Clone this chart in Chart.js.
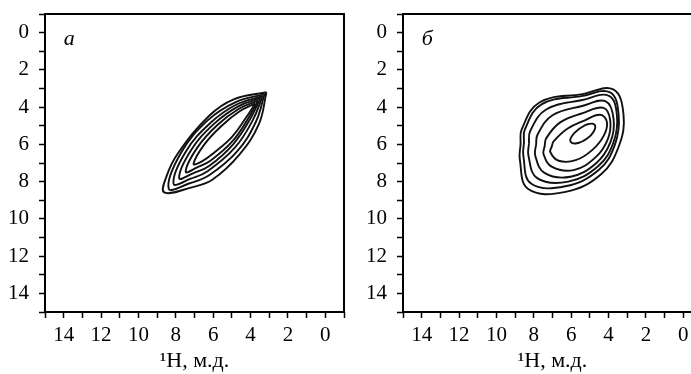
<!DOCTYPE html>
<html>
<head>
  <title>2D contour plots</title>
  <script src="https://cdn.jsdelivr.net/npm/chart.js@4.4.0/dist/chart.umd.min.js"></script>
  <style>
    html, body { margin: 0; padding: 0; background: #fff; overflow: hidden; width: 691px; height: 374px; }
    .panel { position: absolute; top: 0; width: 350px; height: 374px; }
  </style>
</head>
<body>
  <div class="panel" style="left:0px"><canvas id="chartA" width="350" height="374"></canvas></div>
  <div class="panel" style="left:358px"><canvas id="chartB" width="350" height="374"></canvas></div>

  <script>
    // axis setup, ppm
    var axisMin = -1;
    var axisMax = 15;
    var tickLabels = [0, 2, 4, 6, 8, 10, 12, 14];
    var axisTitle = "\u00b9H, м.д.";
    var panelLabels = ["а", "б"];

    // panel a: contour levels, outer to inner, [x ppm, y ppm]
    var contA1 = [[3.15,3.2],[4.9,3.58],[6.2,4.45],[7.9,6.5],[8.5,7.72],[8.62,8.58],[7.2,8.32],[6.05,7.9],[4.6,6.55],[3.55,4.9],[3.15,3.2]];
    var contA2 = [[3.25,3.3],[4.82,3.74],[6.28,4.7],[7.72,6.45],[8.38,8.38],[7.3,8.1],[6.22,7.66],[4.72,6.38],[3.72,4.8],[3.25,3.3]];
    var contA3 = [[3.36,3.41],[4.75,3.86],[6.14,4.84],[7.46,6.38],[8.12,8.12],[7.2,7.84],[6.3,7.44],[4.84,6.18],[3.88,4.7],[3.36,3.41]];
    var contA4 = [[3.47,3.52],[4.68,3.97],[5.96,4.9],[7.16,6.28],[7.82,7.82],[7.05,7.54],[6.22,7.16],[4.92,5.98],[4.02,4.64],[3.47,3.52]];
    var contA5 = [[3.6,3.65],[4.64,4.1],[5.76,4.95],[6.84,6.16],[7.47,7.47],[6.86,7.24],[6.13,6.86],[4.98,5.84],[4.13,4.61],[3.6,3.65]];
    var contA6 = [[3.75,3.8],[4.58,4.22],[5.5,4.96],[6.44,5.96],[7.05,7.05],[6.58,6.9],[5.97,6.46],[4.98,5.58],[4.24,4.56],[3.75,3.8]];

    // panel b: contour levels, outer to inner (each starts and ends on its left side)
    var contB1 = [[8.71,6.0],[8.75,6.8],[8.3,8.4],[6.3,8.55],[4.4,7.6],[3.45,6.1],[3.2,4.4],[3.75,3.05],[5.4,3.3],[7.7,3.75],[8.65,5.2],[8.71,6.0]];
    var contB2 = [[8.53,5.91],[8.56,6.62],[8.15,8.1],[6.32,8.25],[4.53,7.38],[3.66,6.01],[3.46,4.43],[3.92,3.21],[5.45,3.41],[7.59,3.85],[8.48,5.2],[8.53,5.91]];
    var contB3 = [[8.26,5.95],[8.29,6.6],[7.82,7.81],[6.16,8.0],[4.55,7.16],[3.74,5.9],[3.55,4.46],[3.98,3.39],[5.4,3.62],[7.34,4.13],[8.2,5.3],[8.26,5.95]];
    var contB4 = [[7.88,6.02],[7.93,6.58],[7.43,7.53],[6.04,7.74],[4.65,7.0],[3.9,5.88],[3.73,4.64],[4.15,3.69],[5.41,3.94],[7.0,4.44],[7.8,5.47],[7.88,6.02]];
    var contB5 = [[7.42,6.1],[7.48,6.53],[7.02,7.21],[5.87,7.38],[4.7,6.7],[4.05,5.74],[3.91,4.72],[4.27,4.04],[5.34,4.31],[6.59,4.82],[7.34,5.68],[7.42,6.1]];
    var contB6 = [[7.04,6.12],[7.12,6.41],[6.67,6.88],[5.76,6.85],[4.85,6.28],[4.24,5.5],[4.09,4.8],[4.45,4.41],[5.3,4.72],[6.21,5.16],[6.94,5.84],[7.04,6.12]];
    var contB7 = [[5.55,5.15],[5.92,5.5],[6.04,5.84],[5.7,5.94],[5.15,5.68],[4.8,5.32],[4.74,4.95],[5.12,4.92],[5.55,5.15]];

    var contoursA = [contA1, contA2, contA3, contA4, contA5, contA6];
    var contoursB = [contB1, contB2, contB3, contB4, contB5, contB6, contB7];

    var serif = "'Liberation Serif', 'DejaVu Serif', serif";

    // frame around the plot area plus the italic panel letter
    var framePlugin = {
      id: "frame",
      afterDraw: function(chart, args, opts) {
        var ctx = chart.ctx;
        var a = chart.chartArea;
        ctx.save();
        ctx.strokeStyle = "#000";
        ctx.lineWidth = 2;
        ctx.strokeRect(a.left, a.top, a.right - a.left, a.bottom - a.top);
        ctx.fillStyle = "#000";
        ctx.font = "italic 22px " + serif;
        ctx.textAlign = "left";
        ctx.textBaseline = "alphabetic";
        var px = chart.scales.x.getPixelForValue(14);
        var py = chart.scales.y.getPixelForValue(0) + 12;
        ctx.fillText(opts.label, px, py);
        ctx.restore();
      }
    };

    function makeChart(id, contours, label) {
      var datasets = contours.map(function(c) {
        return {
          data: c.map(function(p) { return { x: p[0], y: p[1] }; }),
          showLine: true,
          borderColor: "#111",
          borderWidth: 1.9,
          pointRadius: 0,
          tension: 0.4,
          fill: false
        };
      });

      new Chart(document.getElementById(id), {
        type: "scatter",
        data: { datasets: datasets },
        plugins: [framePlugin],
        options: {
          responsive: false,
          animation: false,
          layout: { padding: { top: 14, right: 6, left: 0, bottom: 0 } },
          plugins: {
            legend: { display: false },
            tooltip: { enabled: false },
            frame: { label: label }
          },
          scales: {
            x: {
              type: "linear",
              reverse: true,
              min: axisMin,
              max: axisMax,
              afterFit: function(s) { s.height = 62; s.paddingLeft = 0; s.paddingRight = 0; },
              border: { display: false },
              grid: { drawOnChartArea: false, tickLength: 6, tickColor: "#000", tickWidth: 1.5 },
              ticks: {
                stepSize: 1,
                autoSkip: false,
                maxRotation: 0,
                padding: 5,
                color: "#000",
                font: { family: serif, size: 21 },
                callback: function(v) { return tickLabels.indexOf(v) >= 0 ? String(v) : ""; }
              },
              title: {
                display: true,
                text: axisTitle,
                color: "#000",
                font: { family: serif, size: 22 },
                padding: { top: 0, bottom: 0 }
              }
            },
            y: {
              type: "linear",
              reverse: true,
              min: axisMin,
              max: axisMax,
              afterFit: function(s) { s.width = 45; s.paddingTop = 0; s.paddingBottom = 0; },
              border: { display: false },
              grid: { drawOnChartArea: false, tickLength: 6, tickColor: "#000", tickWidth: 1.5 },
              ticks: {
                stepSize: 1,
                autoSkip: false,
                padding: 10,
                color: "#000",
                font: { family: serif, size: 21 },
                callback: function(v) { return tickLabels.indexOf(v) >= 0 ? String(v) : ""; }
              }
            }
          }
        }
      });
    }

    makeChart("chartA", contoursA, panelLabels[0]);
    makeChart("chartB", contoursB, panelLabels[1]);
  </script>
</body>
</html>
